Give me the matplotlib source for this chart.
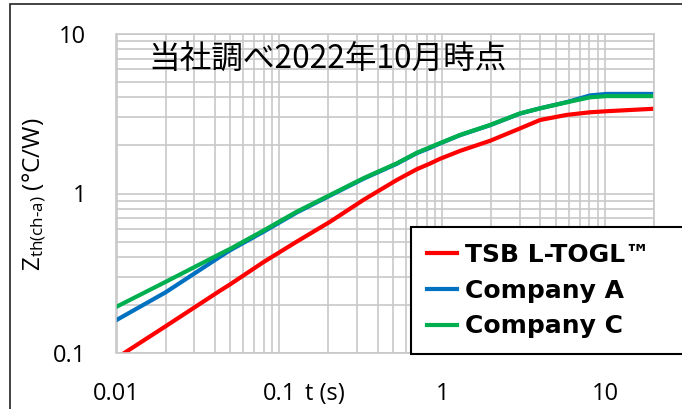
import matplotlib
matplotlib.use("Agg")
import matplotlib.pyplot as plt
from matplotlib.patches import Rectangle
from matplotlib.transforms import blended_transform_factory, offset_copy
from matplotlib.ticker import LogLocator, NullFormatter, FixedLocator, FixedFormatter

plt.rcParams['font.family'] = ['Open Sans', 'Noto Sans CJK JP', 'DejaVu Sans']
plt.rcParams['mathtext.fontset'] = 'custom'
plt.rcParams['mathtext.rm'] = 'Open Sans'
plt.rcParams['mathtext.it'] = 'Open Sans'

# Data
t_vals = [0.01, 0.02, 0.043, 0.0497, 0.0797, 0.1277, 0.2046, 0.327, 0.525, 0.697,
          0.839, 0.968, 1.285, 1.963, 3.0, 3.98, 5.8, 8.07, 10.2, 20.0]
tsb = [0.093, 0.147, 0.245, 0.269, 0.371, 0.499, 0.665, 0.910, 1.215, 1.42,
       1.54, 1.65, 1.85, 2.14, 2.56, 2.89, 3.11, 3.23, 3.28, 3.40]
company_a = [0.161, 0.24, 0.40, 0.44, 0.575, 0.76, 0.97, 1.235, 1.535, 1.79,
             1.93, 2.06, 2.32, 2.68, 3.17, 3.42, 3.74, 4.12, 4.21, 4.21]
company_c = [0.195, 0.279, 0.417, 0.449, 0.585, 0.769, 0.979, 1.245, 1.546, 1.80,
             1.95, 2.07, 2.33, 2.69, 3.18, 3.42, 3.73, 4.01, 4.08, 4.08]
series_names = ['TSB L-TOGL\u2122', 'Company A', 'Company C']
x_ticks = [0.01, 0.1, 1, 10]
x_tick_labels = ['0.01', '0.1', '1', '10']
y_ticks = [0.1, 1, 10]
y_tick_labels = ['0.1', '1', '10']
title_text = '当社調べ2022年10月時点'

W, H = 682, 409
fig = plt.figure(figsize=(W / 100, H / 100), dpi=100)
ax = fig.add_axes([116.5 / W, 1 - 353 / H, (654.3 - 116.5) / W, (353 - 34) / H])

colors = ['#FF0000', '#0070C0', '#00B050']
for ys, c, n in zip([tsb, company_a, company_c], colors, series_names):
    ax.plot(t_vals, ys, color=c, lw=3, label=n, solid_joinstyle='round')

ax.set_xscale('log')
ax.set_yscale('log')
ax.set_xlim(0.01, 20)
ax.set_ylim(0.1, 10)

grid_c = '#c8c8c8'
ax.xaxis.set_major_locator(FixedLocator(x_ticks))
ax.xaxis.set_major_formatter(FixedFormatter(x_tick_labels))
ax.yaxis.set_major_locator(FixedLocator(y_ticks))
ax.yaxis.set_major_formatter(FixedFormatter(y_tick_labels))
ax.xaxis.set_minor_locator(LogLocator(base=10, subs=range(2, 10), numticks=20))
ax.yaxis.set_minor_locator(LogLocator(base=10, subs=range(2, 10), numticks=20))
ax.xaxis.set_minor_formatter(NullFormatter())
ax.yaxis.set_minor_formatter(NullFormatter())
ax.grid(True, which='both', color=grid_c, lw=1.2)
ax.set_axisbelow(True)
ax.tick_params(which='both', length=0, labelsize=17)
xpad = 21
ax.tick_params(axis='x', pad=xpad)
ax.tick_params(axis='y', pad=22)
for s in ax.spines.values():
    s.set_color(grid_c)
    s.set_linewidth(1.2)

ax.text((148 - 116.5) / 537.8, (353 - 60) / 319, title_text, transform=ax.transAxes,
        fontsize=22.8, family=['Noto Sans CJK JP'], va='center', ha='left')

tr = offset_copy(blended_transform_factory(fig.transFigure, ax.transAxes), fig=fig,
                 x=0, y=-xpad, units='points')
ax.text(325 / W, 0, 't (s)', transform=tr, fontsize=17, ha='center', va='top')
fig.text(35 / W, 1 - 194 / H, r'Z$_{\mathregular{th(ch\text{-}a)}}$ (°C/W)', fontsize=17.5,
         rotation=90, ha='center', va='center')

leg = ax.legend(loc='lower left', bbox_to_anchor=((411 - 116.5) / 537.8, -0.003, 0.52, 0.39),
                mode='expand', fancybox=False, framealpha=1, edgecolor='black',
                prop={'family': 'DejaVu Sans', 'weight': 'bold', 'size': 18},
                handlelength=1.2, handletextpad=0.35,
                labelspacing=0.47, borderpad=0.62, borderaxespad=0)
leg.get_frame().set_linewidth(1.5)
leg.set_clip_on(False)

fig.patches.append(Rectangle((9.5 / W, -0.05), 1.1, 1 - 4 / H + 0.05, transform=fig.transFigure,
                             fill=False, edgecolor='#222222', lw=1.2))

fig.savefig('out.png', dpi=100)
